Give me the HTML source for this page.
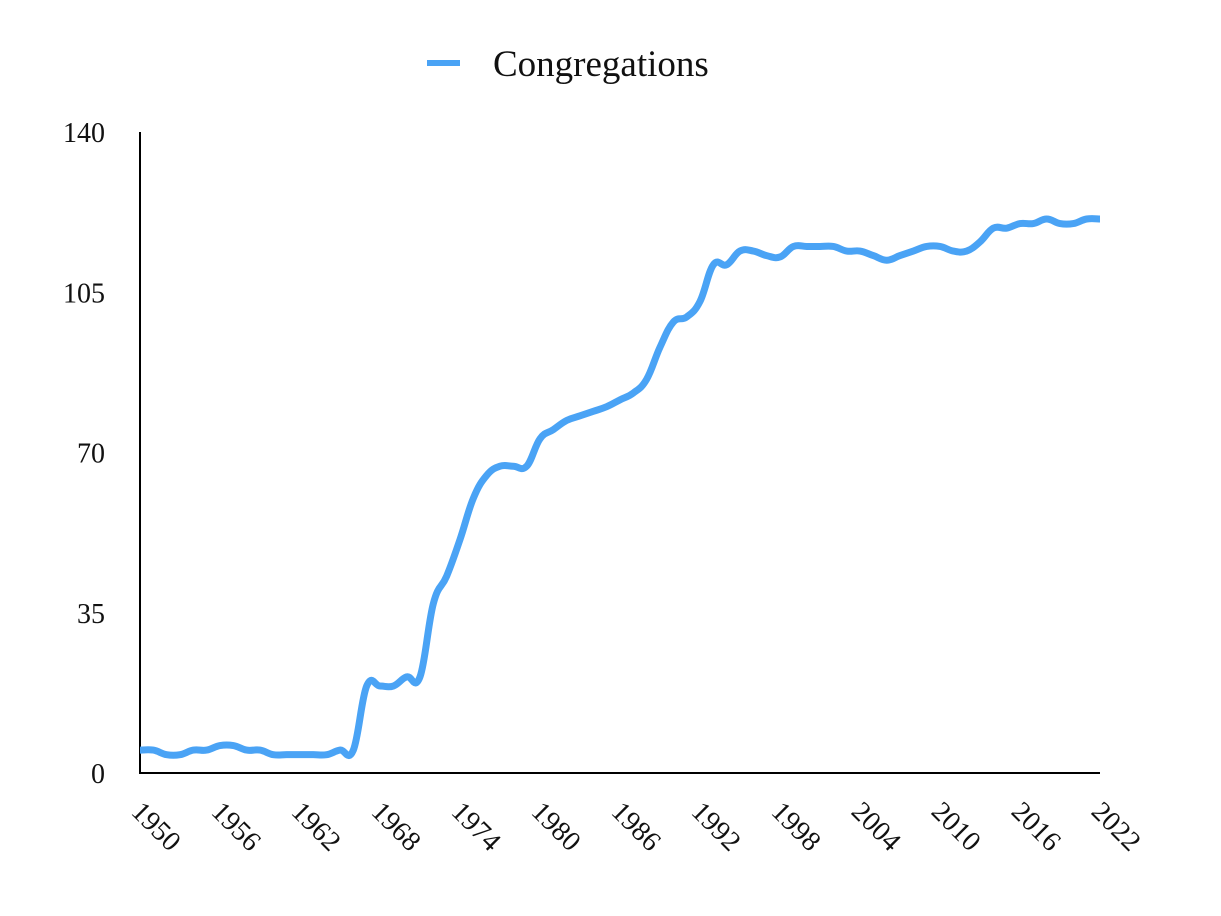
<!DOCTYPE html>
<html><head><meta charset="utf-8"><style>
body{margin:0;background:#fff;}
svg{display:block;font-family:"Liberation Serif",serif;}
</style></head><body>
<svg id="chart" width="1221" height="916">
<g>
<line x1="427" y1="63" x2="460" y2="63" stroke="#4aa3f5" stroke-width="6"/>
<text x="493" y="76" font-size="37" fill="#111">Congregations</text>
</g>
<g id="axes"></g>
<path id="series" fill="none" stroke="#4aa3f5" stroke-width="7" stroke-linejoin="round"/>
</svg>
<script>
const years = [];
for (let y = 1950; y <= 2022; y++) years.push(y);
const values = [5,5,4,4,5,5,6,6,5,5,4,4,4,4,4,5,5,19,19,19,21,21,37,43,51,60,65,67,67,67,73,75,77,78,79,80,81.5,83,86,93,98.5,99.6,103,111,111,114,114,113,112.7,115,115,115,115,114,114,113,112,113,114,115,115,114,114,116,119,119,120,120,121,120,120,121,121];
const yTicks = [0,35,70,105,140];
const xTicks = [1950,1956,1962,1968,1974,1980,1986,1992,1998,2004,2010,2016,2022];
const X0=140,X1=1100,Y0=773,Y1=132;
const xs = v => X0 + (v-1950)/(2022-1950)*(X1-X0);
const ys = v => Y0 - v/140*(Y0-Y1);
const NS="http://www.w3.org/2000/svg";
const axes=document.getElementById('axes');
function mk(t,a){const e=document.createElementNS(NS,t);for(const k in a)e.setAttribute(k,a[k]);return e;}
const ya=mk('line',{x1:X0,y1:Y1,x2:X0,y2:Y0+1,stroke:'#000','stroke-width':2});


axes.appendChild(ya);
const xa=mk('line',{x1:X0-1,y1:Y0,x2:X1,y2:Y0,stroke:'#000','stroke-width':2});


axes.appendChild(xa);
yTicks.forEach(v=>{
  const t=mk('text',{x:105,y:ys(v)+10,'text-anchor':'end','font-size':28,fill:'#111'});
  t.textContent=v;
  
  
  axes.appendChild(t);
});
xTicks.forEach(v=>{
  const x=xs(v);
  const t=mk('text',{x:0,y:0,'font-size':28,fill:'#111',transform:`translate(${x-10},${Y0+40}) rotate(45)`});
  t.textContent=v;
  
  
  axes.appendChild(t);
});
// smooth path (Catmull-Rom)
const pts=years.map((y,i)=>[xs(y),ys(values[i])]);
let d=`M${pts[0][0]},${pts[0][1]}`;
for(let i=0;i<pts.length-1;i++){
  const p0=pts[Math.max(0,i-1)],p1=pts[i],p2=pts[i+1],p3=pts[Math.min(pts.length-1,i+2)];
  const k=0.2;
  d+=` C${p1[0]+(p2[0]-p0[0])*k},${p1[1]+(p2[1]-p0[1])*k} ${p2[0]-(p3[0]-p1[0])*k},${p2[1]-(p3[1]-p1[1])*k} ${p2[0]},${p2[1]}`;
}
document.getElementById('series').setAttribute('d',d);
</script>
</body></html>
